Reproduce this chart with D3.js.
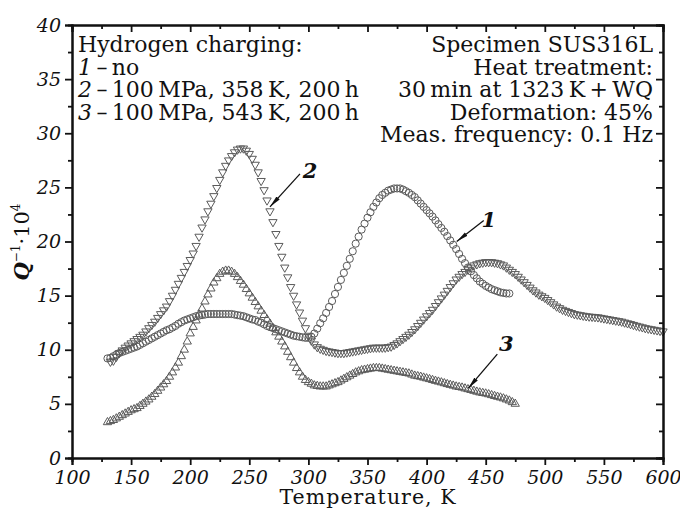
<!DOCTYPE html>
<html><head><meta charset="utf-8">
<script src="https://cdn.jsdelivr.net/npm/d3@7"></script>
<style>
body{margin:0;background:#fff}
svg{display:block}
text{font-family:"DejaVu Serif","Liberation Serif",serif;fill:#111}
</style>
</head><body>
<svg id="chart" width="680" height="509"></svg>
<script>
// ---------- data ----------
const temps = [
  130,132.5,135,137.5,140,142.5,145,147.5,150,152.5,
  155,157.5,160,162.5,165,167.5,170,172.5,175,177.5,
  180,182.5,185,187.5,190,192.5,195,197.5,200,202.5,
  205,207.5,210,212.5,215,217.5,220,222.5,225,227.5,
  230,232.5,235,237.5,240,242.5,245,247.5,250,252.5,
  255,257.5,260,262.5,265,267.5,270,272.5,275,277.5,
  280,282.5,285,287.5,290,292.5,295,297.5,300,302.5,
  305,307.5,310,312.5,315,317.5,320,322.5,325,327.5,
  330,332.5,335,337.5,340,342.5,345,347.5,350,352.5,
  355,357.5,360,362.5,365,367.5,370,372.5,375,377.5,
  380,382.5,385,387.5,390,392.5,395,397.5,400,402.5,
  405,407.5,410,412.5,415,417.5,420,422.5,425,427.5,
  430,432.5,435,437.5,440,442.5,445,447.5,450,452.5,
  455,457.5,460,462.5,465,467.5,470,472.5,475,477.5,
  480,482.5,485,487.5,490,492.5,495,497.5,500,502.5,
  505,507.5,510,512.5,515,517.5,520,522.5,525,527.5,
  530,532.5,535,537.5,540,542.5,545,547.5,550,552.5,
  555,557.5,560,562.5,565,567.5,570,572.5,575,577.5,
  580,582.5,585,587.5,590,592.5,595,597.5,600];

// curve 1 – no hydrogen charging (circles)
const series1 = [
  9.2,9.25,9.4,9.55,9.7,9.8,9.9,10.0,10.1,10.2,
  10.3,10.45,10.6,10.75,10.9,11.05,11.2,11.35,11.5,11.65,
  11.8,11.9,12.05,12.2,12.4,12.55,12.7,12.8,12.9,13.0,
  13.1,13.15,13.2,13.25,13.3,13.3,13.3,13.3,13.3,13.3,
  13.3,13.3,13.3,13.25,13.2,13.15,13.1,13.0,12.9,12.8,
  12.75,12.6,12.5,12.35,12.2,12.1,12.0,11.9,11.8,11.7,
  11.6,11.5,11.4,11.3,11.25,11.2,11.15,11.1,11.1,11.2,
  11.5,11.95,12.45,12.9,13.4,13.95,14.5,15.15,15.8,16.45,
  17.1,17.75,18.4,19.1,19.8,20.45,21.1,21.65,22.2,22.7,
  23.2,23.6,24.0,24.3,24.5,24.7,24.8,24.9,24.9,24.9,
  24.8,24.65,24.5,24.3,24.1,23.8,23.5,23.2,22.9,22.6,
  22.3,21.95,21.6,21.25,20.9,20.5,20.1,19.7,19.3,18.85,
  18.4,18.0,17.6,17.25,16.9,16.6,16.3,16.1,15.9,15.75,
  15.6,15.5,15.4,15.3,15.25,15.2,15.2];

// curve 2 – 100 MPa, 358 K, 200 h (down triangles)
const series2 = [
  null,8.9,9.0,9.35,9.7,9.95,10.2,10.4,10.6,10.8,
  11.0,11.2,11.4,11.7,12.0,12.3,12.6,12.95,13.3,13.65,
  14.0,14.5,15.0,15.55,16.1,16.65,17.2,17.75,18.3,18.9,
  19.6,20.45,21.3,22.05,22.8,23.5,24.2,24.95,25.7,26.4,
  27.0,27.5,27.9,28.25,28.5,28.6,28.6,28.4,28.1,27.65,
  27.1,26.4,25.6,24.75,23.8,22.8,21.8,20.7,19.6,18.6,
  17.6,16.7,15.8,15.0,14.2,13.45,12.7,12.0,11.3,10.85,
  10.5,10.25,10.1,10.0,9.9,9.85,9.8,9.75,9.7,9.7,
  9.7,9.75,9.8,9.85,9.9,9.95,10.0,10.05,10.1,10.15,
  10.2,10.2,10.2,10.2,10.2,10.25,10.3,10.45,10.6,10.8,
  11.0,11.2,11.4,11.65,11.9,12.2,12.5,12.8,13.1,13.4,
  13.7,14.05,14.4,14.75,15.1,15.45,15.8,16.15,16.5,16.75,
  17.0,17.2,17.4,17.6,17.8,17.9,18.0,18.05,18.1,18.1,
  18.1,18.05,18.0,17.9,17.8,17.6,17.4,17.2,17.0,16.75,
  16.5,16.25,16.0,15.75,15.5,15.3,15.1,14.95,14.8,14.6,
  14.4,14.2,14.0,13.85,13.7,13.6,13.5,13.4,13.3,13.25,
  13.2,13.15,13.1,13.07,13.05,13.02,13.0,12.95,12.9,12.85,
  12.8,12.75,12.7,12.65,12.6,12.52,12.45,12.38,12.3,12.22,
  12.15,12.08,12.0,11.95,11.9,11.85,11.8,11.75,11.7];

// curve 3 – 100 MPa, 543 K, 200 h (up triangles)
const series3 = [
  3.3,3.4,3.5,3.65,3.8,3.95,4.1,4.25,4.4,4.5,
  4.6,4.8,5.0,5.2,5.4,5.65,5.9,6.2,6.5,6.8,
  7.1,7.5,7.9,8.35,8.8,9.4,10.0,10.75,11.5,12.1,
  12.7,13.25,13.8,14.45,15.1,15.65,16.2,16.6,17.0,17.2,
  17.3,17.3,17.2,17.0,16.7,16.35,16.0,15.6,15.2,14.8,
  14.4,14.0,13.6,13.2,12.8,12.4,12.0,11.6,11.2,10.75,
  10.3,9.8,9.3,8.8,8.3,7.9,7.5,7.2,7.0,6.85,
  6.7,6.65,6.6,6.6,6.6,6.7,6.8,6.9,7.0,7.15,
  7.3,7.45,7.6,7.75,7.9,8.0,8.1,8.15,8.2,8.25,
  8.3,8.3,8.3,8.25,8.2,8.15,8.1,8.05,8.0,7.95,
  7.9,7.85,7.8,7.7,7.6,7.55,7.5,7.42,7.35,7.28,
  7.2,7.12,7.05,6.98,6.9,6.82,6.75,6.68,6.6,6.55,
  6.5,6.42,6.35,6.28,6.2,6.12,6.05,6.0,5.95,5.88,
  5.8,5.72,5.65,5.58,5.5,5.4,5.3,5.15,5.0];

const xTicks = [100,150,200,250,300,350,400,450,500,550,600];
const xMinorTicks = [125,175,225,275,325,375,425,475,525,575];
const yTicks = [0,5,10,15,20,25,30,35,40];
const yMinorTicks = [2.5,7.5,12.5,17.5,22.5,27.5,32.5,37.5];

const legendLeft = [
  {num:"", text:"Hydrogen charging:"},
  {num:"1", text:"\u2009–\u2009no"},
  {num:"2", text:"\u2009–\u2009100\u2009MPa, 358\u2009K, 200\u2009h"},
  {num:"3", text:"\u2009–\u2009100\u2009MPa, 543\u2009K, 200\u2009h"}
];
const legendRight = [
  "Specimen SUS316L",
  "Heat treatment:",
  "30\u2009min at 1323\u2009K\u2009+\u2009WQ",
  "Deformation: 45%",
  "Meas. frequency: 0.1 Hz"
];

// curve labels: the data point each arrow points at
const curveLabels = [
  {label:"1", t:425.5, v:20.0},
  {label:"2", t:267.5, v:23.2},
  {label:"3", t:435.3, v:6.45}
];

// ---------- layout ----------
const svg = d3.select("#chart");
const M = {left:72, right:663, top:25, bottom:458};
const x = d3.scaleLinear().domain([100,600]).range([M.left, M.right]);
const y = d3.scaleLinear().domain([0,40]).range([M.bottom, M.top]);

// series markers
const mk = arr => temps.map((t,i)=>({t, v:arr[i]})).filter(d=>d.v!=null);
const markerStroke = "#5a5a5a";
const gData = svg.append("g");

gData.append("g").selectAll("circle").data(mk(series1)).join("circle")
  .attr("cx", d=>x(d.t)).attr("cy", d=>y(d.v)).attr("r", 3.6)
  .attr("fill","none").attr("stroke",markerStroke).attr("stroke-width",1);

const tri = d3.symbol().type(d3.symbolTriangle).size(30);
gData.append("g").selectAll("path").data(mk(series2)).join("path")
  .attr("d", tri)
  .attr("transform", d=>`translate(${x(d.t)},${y(d.v)}) rotate(180)`)
  .attr("fill","none").attr("stroke",markerStroke).attr("stroke-width",1);

gData.append("g").selectAll("path").data(mk(series3)).join("path")
  .attr("d", tri)
  .attr("transform", d=>`translate(${x(d.t)},${y(d.v)})`)
  .attr("fill","none").attr("stroke",markerStroke).attr("stroke-width",1);

// ---------- axes ----------
function styleAxis(g){
  g.select(".domain").attr("stroke","#111").attr("stroke-width",2);
  g.selectAll(".tick line").attr("stroke","#111").attr("stroke-width",1.8);
}
const fontTick = 19;
const xAx = svg.append("g").attr("transform",`translate(0,${M.bottom})`)
  .call(d3.axisBottom(x).tickValues(xTicks).tickSize(7).tickPadding(6).tickFormat(d3.format("d")));
xAx.call(styleAxis);
xAx.selectAll("text").attr("font-size",fontTick).attr("font-style","italic").attr("fill","#111");
svg.append("g").attr("transform",`translate(0,${M.bottom})`)
  .call(d3.axisBottom(x).tickValues(xMinorTicks).tickSize(4).tickFormat(""))
  .call(styleAxis);

const yAx = svg.append("g").attr("transform",`translate(${M.left},0)`)
  .call(d3.axisLeft(y).tickValues(yTicks).tickSize(7).tickPadding(4).tickFormat(d3.format("d")));
yAx.call(styleAxis);
yAx.selectAll("text").attr("font-size",fontTick).attr("font-style","italic").attr("fill","#111");
svg.append("g").attr("transform",`translate(${M.left},0)`)
  .call(d3.axisLeft(y).tickValues(yMinorTicks).tickSize(4).tickFormat(""))
  .call(styleAxis);

// top & right (inward ticks)
svg.append("g").attr("transform",`translate(0,${M.top})`)
  .call(d3.axisTop(x).tickValues(xTicks).tickSize(-7).tickFormat("")).call(styleAxis);
svg.append("g").attr("transform",`translate(0,${M.top})`)
  .call(d3.axisTop(x).tickValues(xMinorTicks).tickSize(-4).tickFormat("")).call(styleAxis);
svg.append("g").attr("transform",`translate(${M.right},0)`)
  .call(d3.axisRight(y).tickValues(yTicks).tickSize(-7).tickFormat("")).call(styleAxis);
svg.append("g").attr("transform",`translate(${M.right},0)`)
  .call(d3.axisRight(y).tickValues(yMinorTicks).tickSize(-4).tickFormat("")).call(styleAxis);

// axis titles
svg.append("text").attr("x",(M.left+M.right)/2).attr("y",503.5)
  .attr("text-anchor","middle").attr("font-size",20.5)
  .attr("textLength",176).attr("lengthAdjust","spacing").text("Temperature, K");

const yl = svg.append("text").attr("transform","translate(29,242) rotate(-90)")
  .attr("text-anchor","middle").attr("font-size",21);
yl.append("tspan").attr("font-style","italic").attr("font-weight","bold").text("Q");
yl.append("tspan").attr("font-size",12).attr("dy",-9).text("\u22121");
yl.append("tspan").attr("dy",9).text("\u00b710");
yl.append("tspan").attr("font-size",12).attr("dy",-9).text("4");

// ---------- legend texts ----------
const fontLeg = 22, lineH = 22.6;
const lg = svg.append("g");
legendLeft.forEach((d,i)=>{
  const t = lg.append("text").attr("x",78).attr("y",52+i*lineH).attr("font-size",fontLeg);
  if(d.num) t.append("tspan").attr("font-style","italic").text(d.num);
  t.append("tspan").text(d.text);
});
legendRight.forEach((d,i)=>{
  lg.append("text").attr("x",653).attr("y",52+i*lineH).attr("font-size",fontLeg)
    .attr("text-anchor","end").text(d);
});

// ---------- curve labels with arrows ----------
svg.append("defs").append("marker").attr("id","ah")
  .attr("viewBox","0 0 12 6").attr("refX",12).attr("refY",3)
  .attr("markerWidth",12).attr("markerHeight",6).attr("markerUnits","userSpaceOnUse")
  .attr("orient","auto")
  .append("path").attr("d","M0,0.8 L12,3 L0,5.2 Z").attr("fill","#111");
const offsets = {"1":{tx:27,ty:-21,lx:32,ly:-15},"2":{tx:30,ty:-33,lx:40,ly:-29},"3":{tx:29,ty:-34,lx:38,ly:-37}};
curveLabels.forEach(d=>{
  const px = x(d.t), py = y(d.v), o = offsets[d.label];
  svg.append("line").attr("x1",px+o.tx).attr("y1",py+o.ty).attr("x2",px).attr("y2",py)
    .attr("stroke","#111").attr("stroke-width",1.3).attr("marker-end","url(#ah)");
  svg.append("text").attr("x",px+o.lx).attr("y",py+o.ly).attr("text-anchor","middle")
    .attr("font-size",21).attr("font-style","italic").attr("font-weight","bold").text(d.label);
});
</script>
</body></html>
